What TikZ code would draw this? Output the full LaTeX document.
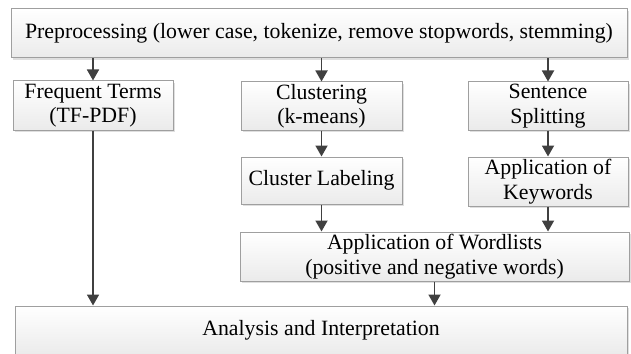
\documentclass[tikz,border=0pt]{standalone}
\usepackage{fontspec}
\setmainfont{Liberation Serif}
\usepackage{tikz}
\usetikzlibrary{arrows.meta}
\usetikzlibrary{shadows}

\begin{document}
\begin{tikzpicture}[
    x=0.5pt, y=-0.5pt,
    box/.style={rectangle, draw=gray!75, line width=0.5pt, align=center,
                top color=white, bottom color=gray!16,
                drop shadow={opacity=0.25, shadow xshift=1.2pt, shadow yshift=-1.2pt},
                inner sep=0pt, font=\fontsize{10.9}{12.2}\selectfont},
    flow/.style={-{Triangle[length=5.5pt, width=6pt]}, line width=0.9pt, draw=black!75},
  ]
  \useasboundingbox (0,0) rectangle (631,353);
  \node[box, minimum width=308pt, minimum height=24.5pt] (prep) at (319, 33.5)
    {Preprocessing (lower case, tokenize, remove stopwords, stemming)};
  \node[box, minimum width=80pt, minimum height=24.5pt] (freq) at (93, 105.5)
    {Frequent Terms\\(TF-PDF)};
  \node[box, minimum width=80.5pt, minimum height=24pt] (clust) at (321.5, 106)
    {Clustering\\(k-means)};
  \node[box, minimum width=80pt, minimum height=24pt] (split) at (548, 106)
    {Sentence\\Splitting};
  \node[box, minimum width=80.5pt, minimum height=23.5pt] (label) at (321.5, 180.5)
    {Cluster Labeling};
  \node[box, minimum width=80pt, minimum height=24.5pt] (keyw) at (548, 181.5)
    {Application of\\Keywords};
  \node[box, minimum width=194.5pt, minimum height=24.5pt] (wordl) at (434.5, 256.5)
    {Application of Wordlists\\(positive and negative words)};
  \node[box, minimum width=306pt, minimum height=24.5pt] (anal) at (321, 330.5)
    {Analysis and Interpretation};

  \draw[flow] (prep.south -| freq) -- (freq);
  \draw[flow] (prep.south -| clust) -- (clust);
  \draw[flow] (prep.south -| split) -- (split);
  \draw[flow] (clust) -- (label);
  \draw[flow] (split) -- (keyw);
  \draw[flow] (label) -- (label |- wordl.north);
  \draw[flow] (keyw) -- (keyw |- wordl.north);
  \draw[flow] (freq) -- (freq |- anal.north);
  \draw[flow] (wordl) -- (wordl |- anal.north);
\end{tikzpicture}
\end{document}
